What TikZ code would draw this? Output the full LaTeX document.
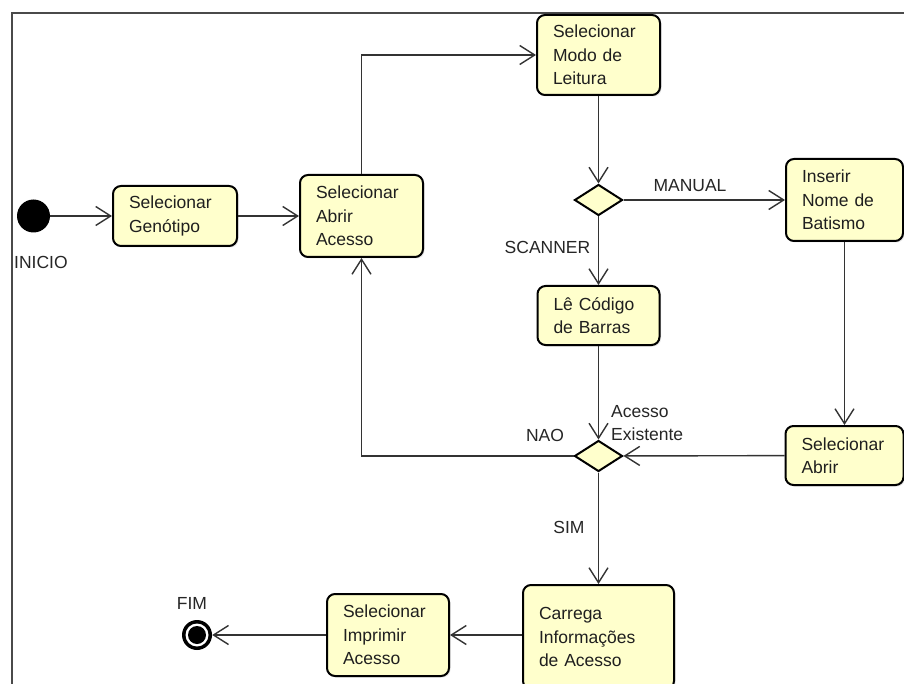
\documentclass[tikz,border=0pt]{standalone}
\usepackage{fontspec}
\setmainfont{Liberation Sans}
\usetikzlibrary{arrows.meta,shapes.geometric,shadows}
\definecolor{actfill}{HTML}{FFFFCC}
\definecolor{linegray}{HTML}{333333}
\definecolor{framegray}{HTML}{4A4A4A}

\begin{document}
\begin{tikzpicture}[x=1pt,y=-1pt,
  font=\fontsize{17.5}{23.5}\selectfont,
  action/.style={draw=black, line width=2pt, fill=actfill, rounded corners=8pt,
    align=left, inner xsep=16pt, inner ysep=0pt, text=black!88,
    drop shadow={shadow xshift=1.5pt, shadow yshift=-1.5pt, opacity=0.2}},
  decision/.style={diamond, draw=black, line width=2pt, fill=actfill,
    minimum width=48pt, minimum height=31pt, inner sep=0pt},
  flow/.style={draw=linegray, line width=1.4pt,
    -{Straight Barb[length=15pt,width=19pt,line width=1.4pt]}},
  lbl/.style={text=black!85, inner sep=0pt},
]
\useasboundingbox (0,0) rectangle (904,684);
\fill[white] (0,0) rectangle (904,684);

% diagram frame
\draw[framegray, line width=2pt] (12,684) -- (12,13) -- (904,13);

% initial and final states
\node[circle, fill=black, minimum size=33pt, inner sep=0pt] (start) at (33.5,216) {};
\node[lbl, anchor=west] (lini) at (14,262) {INICIO};
\node[circle, fill=black, minimum size=30pt, inner sep=0pt] (fim) at (197,635) {};
\fill[white] (fim.center) circle (11.5pt);
\fill[black] (fim.center) circle (9pt);
\node[lbl] (lfim) at (192,603) {FIM};

% actions
\node[action, text width=92pt, minimum height=60pt] (gen) at (175,216) {Selecionar\\Genótipo};
\node[action, text width=91pt, minimum height=82pt] (abrir) at (361.5,216) {Selecionar\\Abrir\\Acesso};
\node[action, text width=91pt, minimum height=80pt] (modo) at (598.5,55) {Selecionar\\Modo de\\Leitura};
\node[action, text width=85pt, minimum height=82pt] (inserir) at (844.5,200) {Inserir\\Nome de\\Batismo};
\node[action, text width=90pt, minimum height=59pt] (le) at (598.5,315.5) {Lê Código\\de Barras};
\node[action, text width=86pt, minimum height=59pt] (sabrir) at (844.5,455.5) {Selecionar\\Abrir};
\node[action, text width=119pt, minimum height=104pt] (carrega) at (598.5,637) {Carrega\\Informações\\de Acesso};
\node[action, text width=90pt, minimum height=82pt] (imprimir) at (388,635) {Selecionar\\Imprimir\\Acesso};

% decisions
\node[decision] (d1) at (598.5,200) {};
\node[decision] (d2) at (598.5,456) {};

% guard labels
\node[lbl] (lman) at (690,186) {MANUAL};
\node[lbl] (lscan) at (547.5,247) {SCANNER};
\node[lbl] (lnao) at (545,435) {NAO};
\node[lbl, anchor=west, align=left] (lacc) at (611,423) {Acesso\\Existente};
\node[lbl] (lsim) at (569,527) {SIM};

% control flows
\draw[flow] (start) -- (gen);
\draw[flow] (gen) -- (abrir);
\draw[flow] (abrir.north) |- (modo.west);
\draw[flow] (modo) -- (d1);
\draw[flow] (d1) -- (inserir);
\draw[flow] (d1) -- (le);
\draw[flow] (le) -- (d2);
\draw[flow] (inserir) -- (sabrir);
\draw[flow] (sabrir) -- (d2);
\draw[flow] (d2.west) -| (abrir.south);
\draw[flow] (d2) -- (carrega);
\draw[flow] (carrega.west |- imprimir.east) -- (imprimir.east);
\draw[flow] (imprimir) -- (fim);
\end{tikzpicture}
\end{document}
